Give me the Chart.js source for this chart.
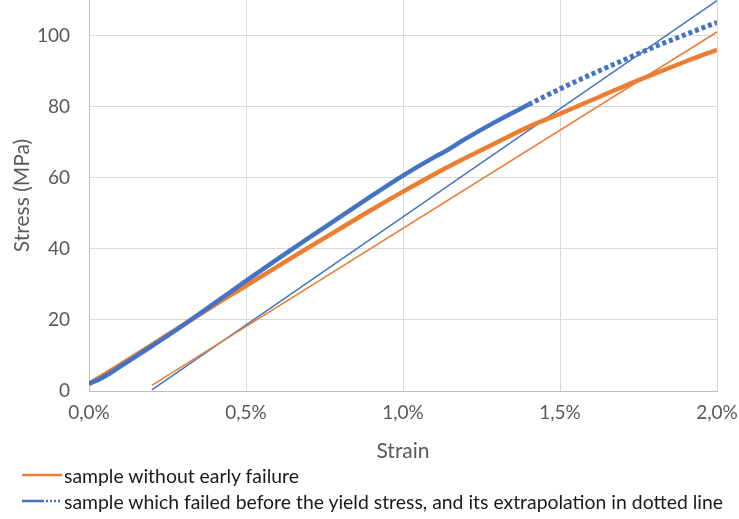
<!DOCTYPE html>
<html>
<head>
<meta charset="utf-8">
<script src="https://cdn.jsdelivr.net/npm/chart.js@4"></script>
<style>
  body { margin: 0; background: #fff; font-family: Lato, sans-serif; }
  #wrap { position: relative; width: 739px; height: 464px; }
  #legend { position: absolute; left: 0; top: 462px; width: 739px; }
  .item { position: absolute; left: 22px; height: 24px; display: flex; align-items: center; font-size: 19.4px; color: #1a1a1a; white-space: nowrap; }
  .item svg { margin-right: 2px; }
</style>
</head>
<body>
<div id="wrap"><canvas id="stresschart"></canvas></div>
<div id="legend">
  <div class="item" style="top:1px">
    <svg width="40" height="6"><line x1="0" y1="3" x2="40" y2="3" stroke="#ED7D31" stroke-width="2.5"/></svg>
    <span>sample without early failure</span>
  </div>
  <div class="item" style="top:27px">
    <svg width="40" height="6"><line x1="0" y1="3" x2="22" y2="3" stroke="#4472C4" stroke-width="2.5"/><line x1="24" y1="3" x2="40" y2="3" stroke="#4472C4" stroke-width="2.5" stroke-dasharray="2,2"/></svg>
    <span>sample which failed before the yield stress, and its extrapolation in dotted line</span>
  </div>
</div>
<script>
// strain in %, stress in MPa
const orangeStrain = [0, 0.1, 0.2, 0.3, 0.4, 0.5, 0.6, 0.7, 0.8, 0.9, 1.0, 1.1, 1.2, 1.3, 1.4, 1.5, 1.6, 1.7, 1.8, 1.9, 2.0];
const orangeStress = [2, 7.4, 13, 18.6, 24.2, 29.6, 35, 40.4, 45.7, 51, 56.1, 61, 65.6, 70, 74.3, 78, 81.8, 85.6, 89.2, 92.7, 96];

const blueStrain = [0, 0.05, 0.1, 0.2, 0.3, 0.4, 0.5, 0.6, 0.7, 0.8, 0.9, 1.0, 1.1, 1.13, 1.2, 1.3, 1.4];
const blueStress = [2, 4.1, 6.9, 12.6, 18.5, 24.7, 31, 37.1, 43.1, 49, 54.9, 60.6, 65.8, 67.2, 71, 76, 80.6];

const blueExtStrain = [1.4, 1.5, 1.6, 1.7, 1.8, 1.9, 2.0];
const blueExtStress = [80.6, 85, 89.1, 93, 96.8, 100.3, 103.7];

const orangeFitStrain = [0.2, 2.0];
const orangeFitStress = [1.6, 101];
const blueFitStrain = [0.2, 2.0];
const blueFitStress = [0.3, 109.8];

const xTicks = [0, 0.5, 1.0, 1.5, 2.0];
const yTicks = [0, 20, 40, 60, 80, 100];

const ORANGE = '#ED7D31';
const BLUE = '#4472C4';
const pts = (xs, ys) => xs.map((x, i) => ({ x: x, y: ys[i] }));

const ctx = document.getElementById('stresschart').getContext('2d');
const chart = new Chart(ctx, {
  type: 'line',
  data: {
    datasets: [
      { data: pts(blueStrain, blueStress), borderColor: BLUE, borderWidth: 4.5, order: 1, cubicInterpolationMode: 'monotone' },
      { data: pts(blueExtStrain, blueExtStress), borderColor: BLUE, borderWidth: 5, borderDash: [4, 3], order: 1, cubicInterpolationMode: 'monotone' },
      { data: pts(orangeStrain, orangeStress), borderColor: ORANGE, borderWidth: 4.5, order: 2, cubicInterpolationMode: 'monotone' },
      { data: pts(orangeFitStrain, orangeFitStress), borderColor: ORANGE, borderWidth: 1.5, order: 3 },
      { data: pts(blueFitStrain, blueFitStress), borderColor: BLUE, borderWidth: 1.5, order: 3 }
    ]
  },
  options: {
    responsive: true,
    maintainAspectRatio: false,
    animation: false,
    elements: { point: { radius: 0 } },
    layout: { padding: 0 },
    plugins: { legend: { display: false }, tooltip: { enabled: false } },
    scales: {
      x: {
        type: 'linear',
        min: 0, max: 2,
        afterBuildTicks: s => { s.ticks = xTicks.map(v => ({ value: v })); },
        afterFit: s => { s.paddingRight = 22; s.paddingLeft = 0; },
        ticks: {
          color: '#595959', font: { family: 'Lato', size: 19 }, padding: 10,
          callback: v => v.toFixed(1).replace('.', ',') + '%'
        },
        grid: { color: '#d9d9d9', drawTicks: false },
        border: { color: '#bfbfbf' },
        title: { display: true, text: 'Strain', color: '#595959', font: { family: 'Lato', size: 21 }, padding: { top: 5, bottom: 0 } }
      },
      y: {
        min: 0, max: 110,
        afterBuildTicks: s => { s.ticks = yTicks.map(v => ({ value: v })); },
        afterFit: s => { s.paddingTop = 0; s.width = 89; },
        ticks: { color: '#595959', font: { family: 'Lato', size: 19 }, padding: 19 },
        grid: { color: '#d9d9d9', drawTicks: false },
        border: { color: '#bfbfbf' },
        title: { display: true, text: 'Stress (MPa)', color: '#595959', font: { family: 'Lato', size: 21 }, padding: { top: 10, bottom: 0 } }
      }
    }
  }
});
</script>
</body>
</html>
